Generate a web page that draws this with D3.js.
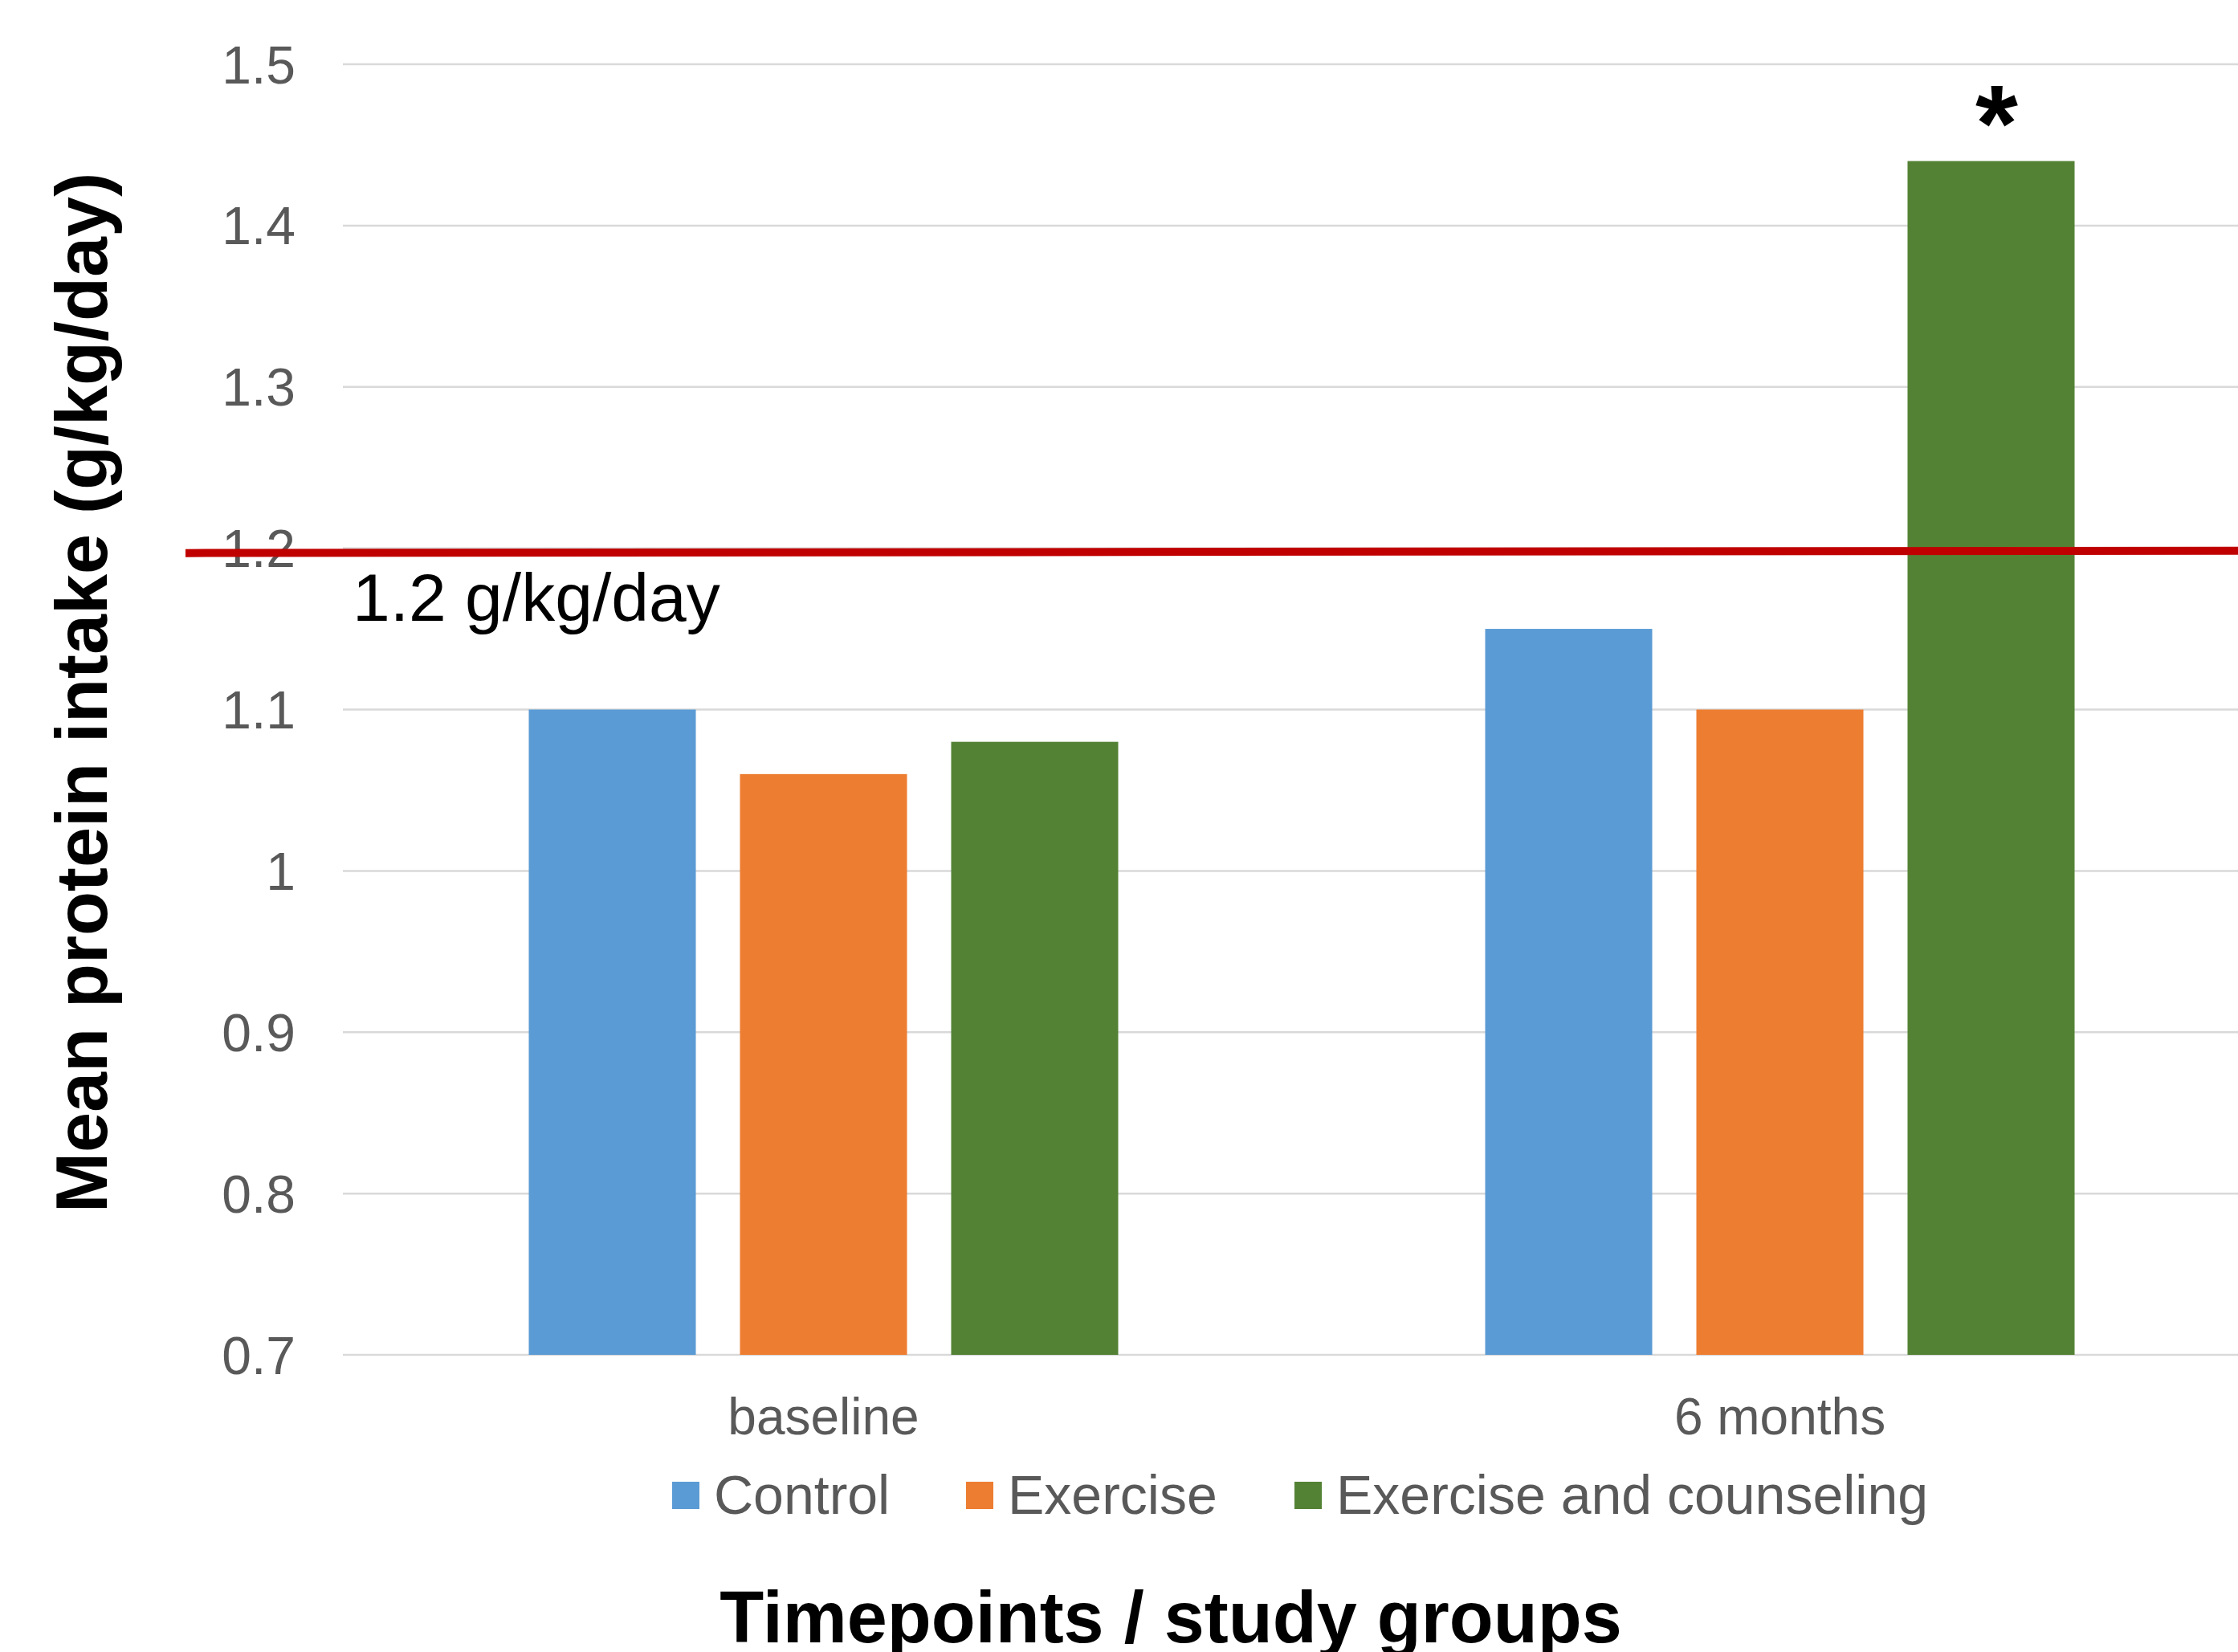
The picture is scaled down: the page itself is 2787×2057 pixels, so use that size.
<!DOCTYPE html>
<html><head><meta charset="utf-8">
<script src="https://cdn.jsdelivr.net/npm/d3@7"></script>
<style>html,body{margin:0;padding:0;background:#fff;}svg{display:block;}</style>
</head><body>
<script>
const categories = ["baseline", "6 months"];
const seriesNames = ["Control", "Exercise", "Exercise and counseling"];
const controlValues = [1.10, 1.15];
const exerciseValues = [1.06, 1.10];
const counselingValues = [1.08, 1.44];
const yTicks = [0.7, 0.8, 0.9, 1.0, 1.1, 1.2, 1.3, 1.4, 1.5];
const yTickLabels = ["0.7", "0.8", "0.9", "1", "1.1", "1.2", "1.3", "1.4", "1.5"];
const thresholdValue = 1.2;
const thresholdLabel = "1.2 g/kg/day";
const yTitle = "Mean protein intake (g/kg/day)";
const xTitle = "Timepoints / study groups";
const colors = ["#5B9BD5", "#ED7D31", "#548235"];

const W = 2787, H = 2057;
const seriesValues = [controlValues, exerciseValues, counselingValues];

const svg = d3.select("body").append("svg").attr("width", W).attr("height", H);
const font = "Arial, 'Liberation Sans', sans-serif";

const plotLeft = 430, plotRight = 2812;
const y = d3.scaleLinear().domain([0.7, 1.5]).range([1687, 80]);
const x0 = d3.scaleBand().domain(categories).range([plotLeft, plotRight]).paddingInner(0.3837).paddingOuter(0.19185);
const x1 = d3.scaleBand().domain(seriesNames).range([0, x0.bandwidth()]).paddingInner(0.209).paddingOuter(0);

// gridlines
const grid = svg.append("g");
grid.selectAll("line").data(yTicks).join("line")
  .attr("x1", plotLeft - 3).attr("x2", W)
  .attr("y1", d => y(d)).attr("y2", d => y(d))
  .attr("stroke", "#D9D9D9").attr("stroke-width", 2.5);

// y tick labels
const yAxis = d3.axisLeft(y).tickValues(yTicks).tickSize(0).tickPadding(0)
  .tickFormat((d, i) => yTickLabels[i]);
const ya = svg.append("g").attr("transform", `translate(368,0)`).call(yAxis);
ya.select(".domain").remove();
ya.selectAll("text").attr("font-family", font).attr("font-size", 66).attr("fill", "#595959").attr("dy", "0.35em");

// bars
const groups = svg.append("g").selectAll("g").data(categories).join("g")
  .attr("transform", d => `translate(${x0(d)},0)`);
groups.selectAll("rect").data((d, ci) => seriesNames.map((s, si) => ({s, si, v: seriesValues[si][ci]})))
  .join("rect")
  .attr("x", d => x1(d.s)).attr("width", x1.bandwidth())
  .attr("y", d => y(d.v)).attr("height", d => y(0.7) - y(d.v))
  .attr("fill", d => colors[d.si]);

// x category labels
const xAxis = d3.axisBottom(x0).tickSize(0).tickPadding(0);
const xa = svg.append("g").attr("transform", `translate(0,${y(0.7)})`).call(xAxis);
xa.select(".domain").remove();
xa.selectAll("text").attr("font-family", font).attr("font-size", 64).attr("fill", "#595959").attr("dy", null).attr("y", 99);

// threshold line
svg.append("line").attr("x1", 231).attr("x2", W)
  .attr("y1", y(thresholdValue) + 6).attr("y2", y(thresholdValue) + 3)
  .attr("stroke", "#C00000").attr("stroke-width", 10);
svg.append("text").attr("x", 439).attr("y", 773).text(thresholdLabel)
  .attr("font-family", font).attr("font-size", 84).attr("fill", "#000");

// significance asterisk
svg.append("text").attr("x", x0("6 months") + x1("Exercise and counseling") + x1.bandwidth() / 2 + 7)
  .attr("y", 200).attr("text-anchor", "middle").text("*")
  .attr("font-family", font).attr("font-weight", "bold").attr("font-size", 136).attr("fill", "#000");

// legend
const legendX = [837, 1203, 1612];
const lg = svg.append("g").selectAll("g").data(seriesNames).join("g")
  .attr("transform", (d, i) => `translate(${legendX[i]},1845)`);
lg.append("rect").attr("width", 34).attr("height", 34).attr("fill", (d, i) => colors[i]);
lg.append("text").attr("x", 52).attr("y", 40).text(d => d)
  .attr("font-family", font).attr("font-size", 68).attr("fill", "#595959");

// axis titles
svg.append("text").attr("x", 1458).attr("y", 2045)
  .attr("text-anchor", "middle").text(xTitle)
  .attr("font-family", font).attr("font-weight", "bold").attr("font-size", 90).attr("fill", "#000");
svg.append("text").attr("transform", `translate(133,${(210 + 1515) / 2}) rotate(-90)`)
  .attr("text-anchor", "middle").text(yTitle)
  .attr("font-family", font).attr("font-weight", "bold").attr("font-size", 90).attr("fill", "#000");
</script>
</body></html>
